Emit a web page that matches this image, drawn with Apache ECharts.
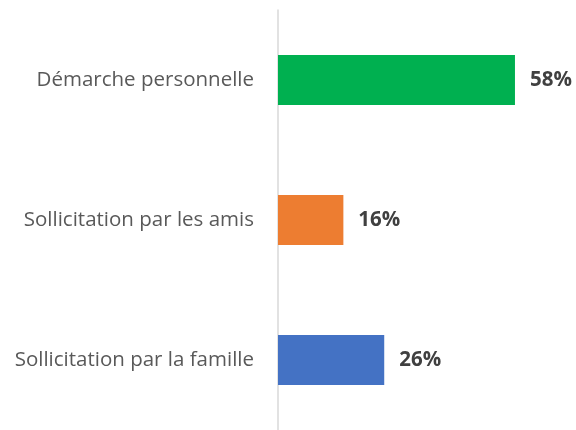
<!DOCTYPE html>
<html>
<head>
<meta charset="utf-8">
<script src="https://cdn.jsdelivr.net/npm/echarts@6/dist/echarts.min.js"></script>
<style>
  html, body { margin: 0; padding: 0; background: #fff; }
  #chart { width: 576px; height: 430px; }
</style>
</head>
<body>
<div id="chart"></div>
<script>
var categories = ['Démarche personnelle', 'Sollicitation par les amis', 'Sollicitation par la famille'];
var values = [58, 16, 26];
var barColors = ['#00B050', '#ED7D31', '#4472C4'];

var chart = echarts.init(document.getElementById('chart'));

var option = {
    animation: false,
    grid: { left: 278, right: 12, top: 10, bottom: 0 },
    xAxis: {
        type: 'value',
        min: 0,
        max: 70,
        show: false
    },
    yAxis: {
        type: 'category',
        inverse: true,
        data: categories,
        axisLine: { lineStyle: { color: '#d9d9d9', width: 1.5 } },
        axisTick: { show: false },
        axisLabel: {
            margin: 24,
            fontFamily: 'Open Sans',
            fontSize: 20.5,
            color: '#595959'
        }
    },
    series: [{
        type: 'bar',
        barWidth: 50,
        data: values.map(function (v, i) {
            return { value: v, itemStyle: { color: barColors[i] } };
        }),
        label: {
            show: true,
            position: 'right',
            distance: 15,
            formatter: '{c}%',
            fontFamily: 'Open Sans',
            fontWeight: 'bold',
            fontSize: 20.5,
            color: '#404040'
        }
    }]
};

chart.setOption(option);
</script>
</body>
</html>
